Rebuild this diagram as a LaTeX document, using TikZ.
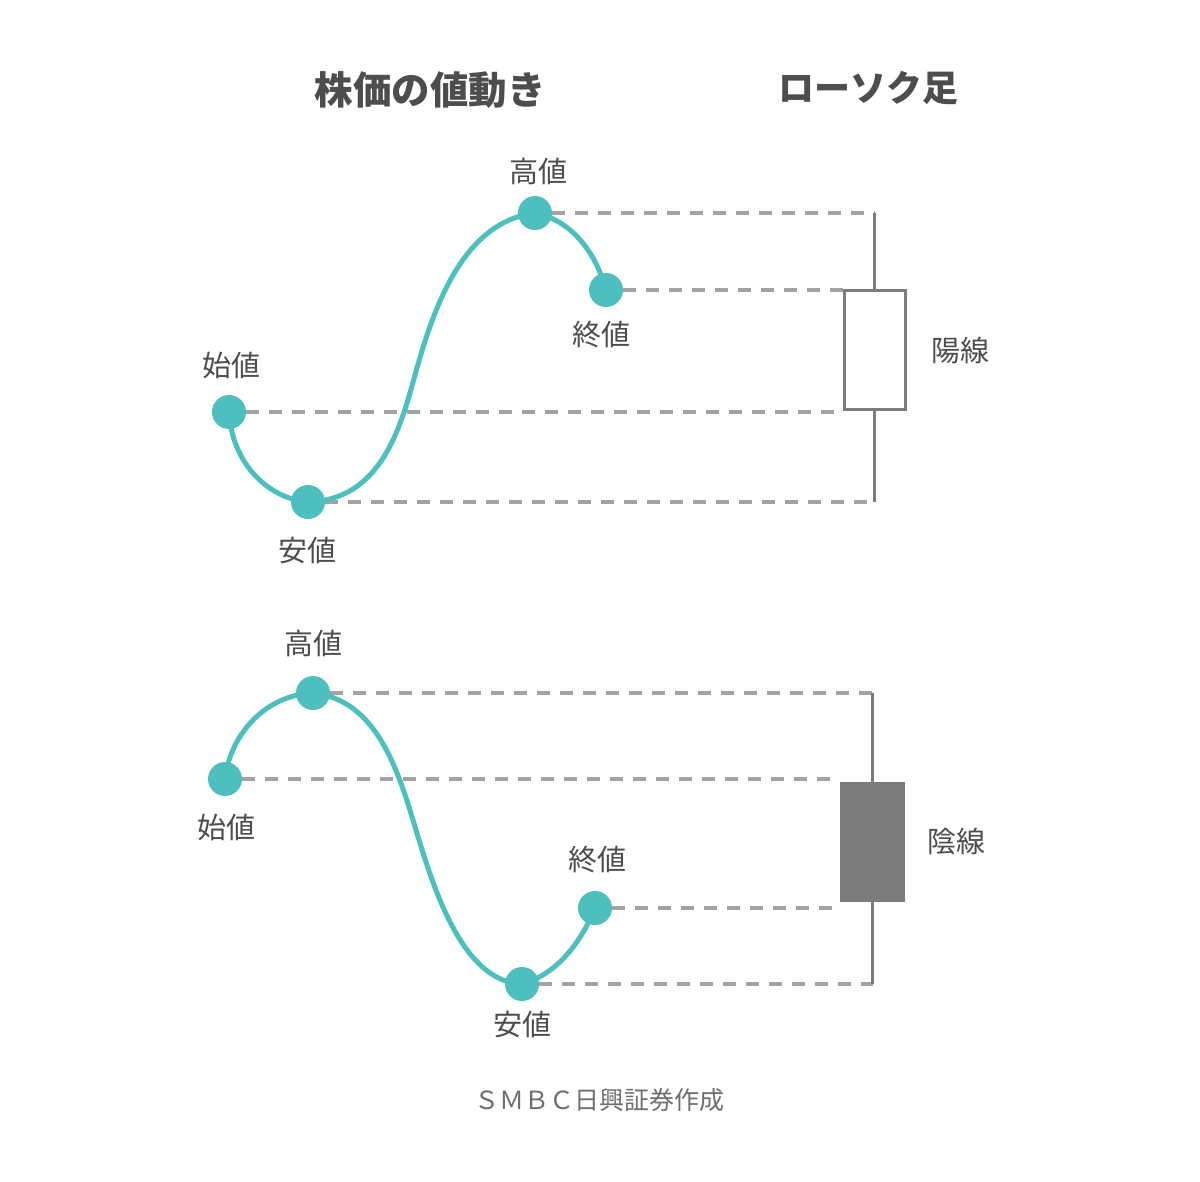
\documentclass[tikz,border=0pt]{standalone}
\usepackage{fontspec}
\setmainfont{Noto Sans CJK JP}
\usetikzlibrary{positioning,backgrounds}

\definecolor{wave}{HTML}{4DBFBE}
\definecolor{guide}{HTML}{A3A3A3}
\definecolor{ink}{HTML}{4D4D4D}
\definecolor{candle}{HTML}{7C7C7C}
\definecolor{foot}{HTML}{6E6E6E}

\begin{document}
\begin{tikzpicture}[x=1pt,y=-1pt,
    dot/.style={circle,fill=wave,inner sep=0pt,minimum size=34pt},
    lbl/.style={text=ink,font=\fontsize{29}{34}\selectfont,inner sep=0pt},
    ttl/.style={text=ink,font=\fontsize{36}{42}\selectfont\bfseries,inner sep=0pt},
    dashline/.style={color=guide,line width=3.5pt,dash pattern=on 13pt off 10pt},
    waveline/.style={color=wave,line width=5pt},
    wickline/.style={color=candle,line width=3pt}]
    \useasboundingbox (0,0) rectangle (1200,1182);

    \node[ttl, font=\fontsize{38.5}{44}\selectfont\bfseries] (t1) at (430,90) {株価の値動き};
    \node[ttl] (t2) at (868,88) {ローソク足};

    % 陽線
    \node[dot] (uo) at (229,412) {};
    \node[dot] (ul) at (308,502) {};
    \node[dot] (uh) at (535,213) {};
    \node[dot] (uc) at (606,290) {};
    \coordinate (um) at (415,375);

    \node[lbl] at (538,171) {高値};
    \node[lbl] at (601,335) {終値};
    \node[lbl] at (231,366) {始値};
    \node[lbl] at (307,550) {安値};

    \node[draw=candle, line width=3pt, minimum width=61pt, minimum height=119pt, inner sep=0pt] (ubox) at (874.5,350) {};
    \coordinate (utop) at (874.5,213);
    \coordinate (ubot) at (874.5,502);
    \draw[wickline] (utop) -- (ubox.north);
    \draw[wickline] (ubox.south) -- (ubot);
    \node[lbl, right=25pt of ubox] {陽線};

    % 陰線
    \node[dot] (do) at (225,779) {};
    \node[dot] (dh) at (313,693) {};
    \node[dot] (dl) at (522,984) {};
    \node[dot] (dc) at (595,908) {};
    \coordinate (dm) at (416,830);

    \node[lbl] at (313,643) {高値};
    \node[lbl] at (226,828) {始値};
    \node[lbl] at (597,860) {終値};
    \node[lbl] at (522,1024) {安値};

    \node[fill=candle, minimum width=65pt, minimum height=120pt, inner sep=0pt] (dbox) at (872.5,842) {};
    \coordinate (dtop) at (872.5,693);
    \coordinate (dbot) at (872.5,984);
    \draw[wickline] (dtop) -- (dbox.north);
    \draw[wickline] (dbox.south) -- (dbot);
    \node[lbl, right=22pt of dbox] {陰線};

    \begin{scope}[on background layer]
        \draw[dashline] (uh) -- (utop);
        \draw[dashline] (uc) -- (uc -| ubox.west);
        \draw[dashline] (uo) -- (uo -| ubox.west);
        \draw[dashline] (ul) -- (ubot);
        \draw[waveline] (uo.center) .. controls (232,465) and (270,499) .. (ul.center)
            .. controls (380,500) and (400,430) .. (um)
            .. controls (433,310) and (462,222) .. (uh.center)
            .. controls (570,220) and (595,250) .. (uc.center);

        \draw[dashline] (dh) -- (dtop);
        \draw[dashline] (do) -- (do -| dbox.west);
        \draw[dashline] (dc) -- (dc -| dbox.west);
        \draw[dashline] (dl) -- (dbot);
        \draw[waveline] (do.center) .. controls (230,735) and (265,695) .. (dh.center)
            .. controls (377,700) and (398,770) .. (dm)
            .. controls (434,890) and (463,982) .. (dl.center)
            .. controls (555,975) and (580,945) .. (dc.center);
    \end{scope}

    \node[text=foot, font=\fontsize{25}{30}\selectfont, inner sep=0pt] (src) at (599,1100) {ＳＭＢＣ日興証券作成};
\end{tikzpicture}
\end{document}
